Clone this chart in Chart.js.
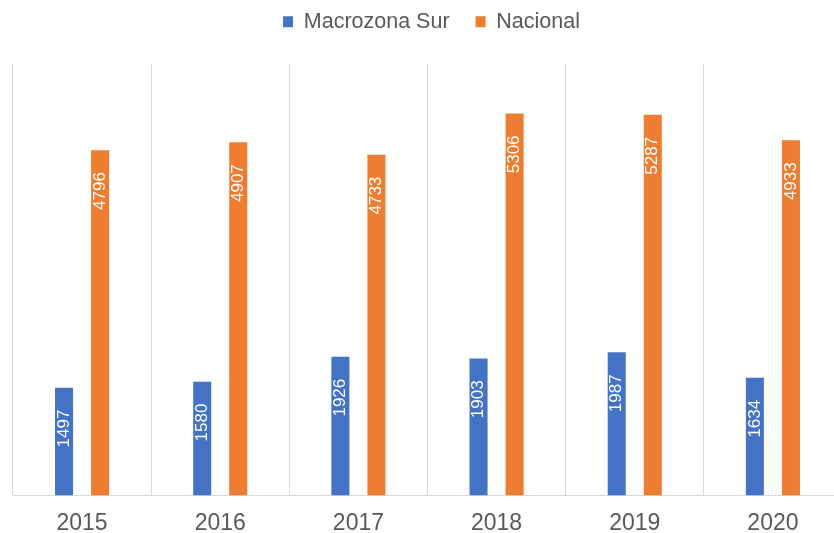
<!DOCTYPE html>
<html>
<head>
<meta charset="utf-8">
<script src="https://cdn.jsdelivr.net/npm/chart.js@4"></script>
<style>
  html, body { margin: 0; padding: 0; background: #fff; overflow: hidden; }
  #wrap { width: 842px; height: 551px; }
</style>
</head>
<body>
<div id="wrap"><canvas id="bar_chart"></canvas></div>
<script>
var years = ['2015', '2016', '2017', '2018', '2019', '2020'];
var macrozona_sur = [1497, 1580, 1926, 1903, 1987, 1634];
var nacional = [4796, 4907, 4733, 5306, 5287, 4933];

// rotated value labels near the top inside each bar
var barLabels = {
    id: 'barLabels',
    afterLayout: function (chart) {
        // nudge the legend up and right, keep the plot area where it is
        if (chart.legend) {
            chart.legend.top -= 21;
            chart.legend.bottom -= 21;
            chart.legend.left += 4;
            chart.legend.right += 4;
        }
    },
    afterDatasetsDraw: function (chart) {
        var ctx = chart.ctx;
        ctx.save();
        ctx.fillStyle = '#ffffff';
        ctx.font = '17px "Liberation Sans", Arial, sans-serif';
        ctx.textAlign = 'right';
        ctx.textBaseline = 'middle';
        chart.data.datasets.forEach(function (ds, di) {
            var meta = chart.getDatasetMeta(di);
            meta.data.forEach(function (bar, i) {
                ctx.save();
                ctx.translate(bar.x, bar.y + 22);
                ctx.rotate(-Math.PI / 2);
                ctx.fillText(String(ds.data[i]), 0, 0);
                ctx.restore();
            });
        });
        ctx.restore();
    }
};

var bc = document.getElementById('bar_chart');
var barChart = new Chart(bc, {
    type: 'bar',
    data: {
        labels: years,
        datasets: [{
            label: 'Macrozona Sur',
            data: macrozona_sur,
            backgroundColor: '#4472C4',
            barPercentage: 0.5,
            categoryPercentage: 0.522
        },
        {
            label: 'Nacional',
            data: nacional,
            backgroundColor: '#ED7D31',
            barPercentage: 0.5,
            categoryPercentage: 0.522
        }]
    },
    options: {
        responsive: true,
        maintainAspectRatio: false,
        animation: false,
        layout: {
            padding: { left: 13, top: 6, right: 0, bottom: 0 }
        },
        plugins: {
            legend: {
                display: true,
                position: 'top',
                labels: {
                    boxWidth: 10,
                    boxHeight: 11,
                    padding: 26,
                    color: '#595959',
                    font: { size: 21.5, family: '"Liberation Sans", Arial, sans-serif' }
                }
            },
            tooltip: { enabled: false }
        },
        scales: {
            x: {
                grid: {
                    display: true,
                    offset: true,
                    color: '#d9d9d9',
                    drawTicks: false
                },
                border: { color: '#d9d9d9' },
                ticks: {
                    color: '#595959',
                    padding: 14,
                    font: { size: 23, family: '"Liberation Sans", Arial, sans-serif' }
                }
            },
            y: {
                display: false,
                min: 0,
                max: 6000
            }
        }
    },
    plugins: [barLabels]
});
</script>
</body>
</html>
